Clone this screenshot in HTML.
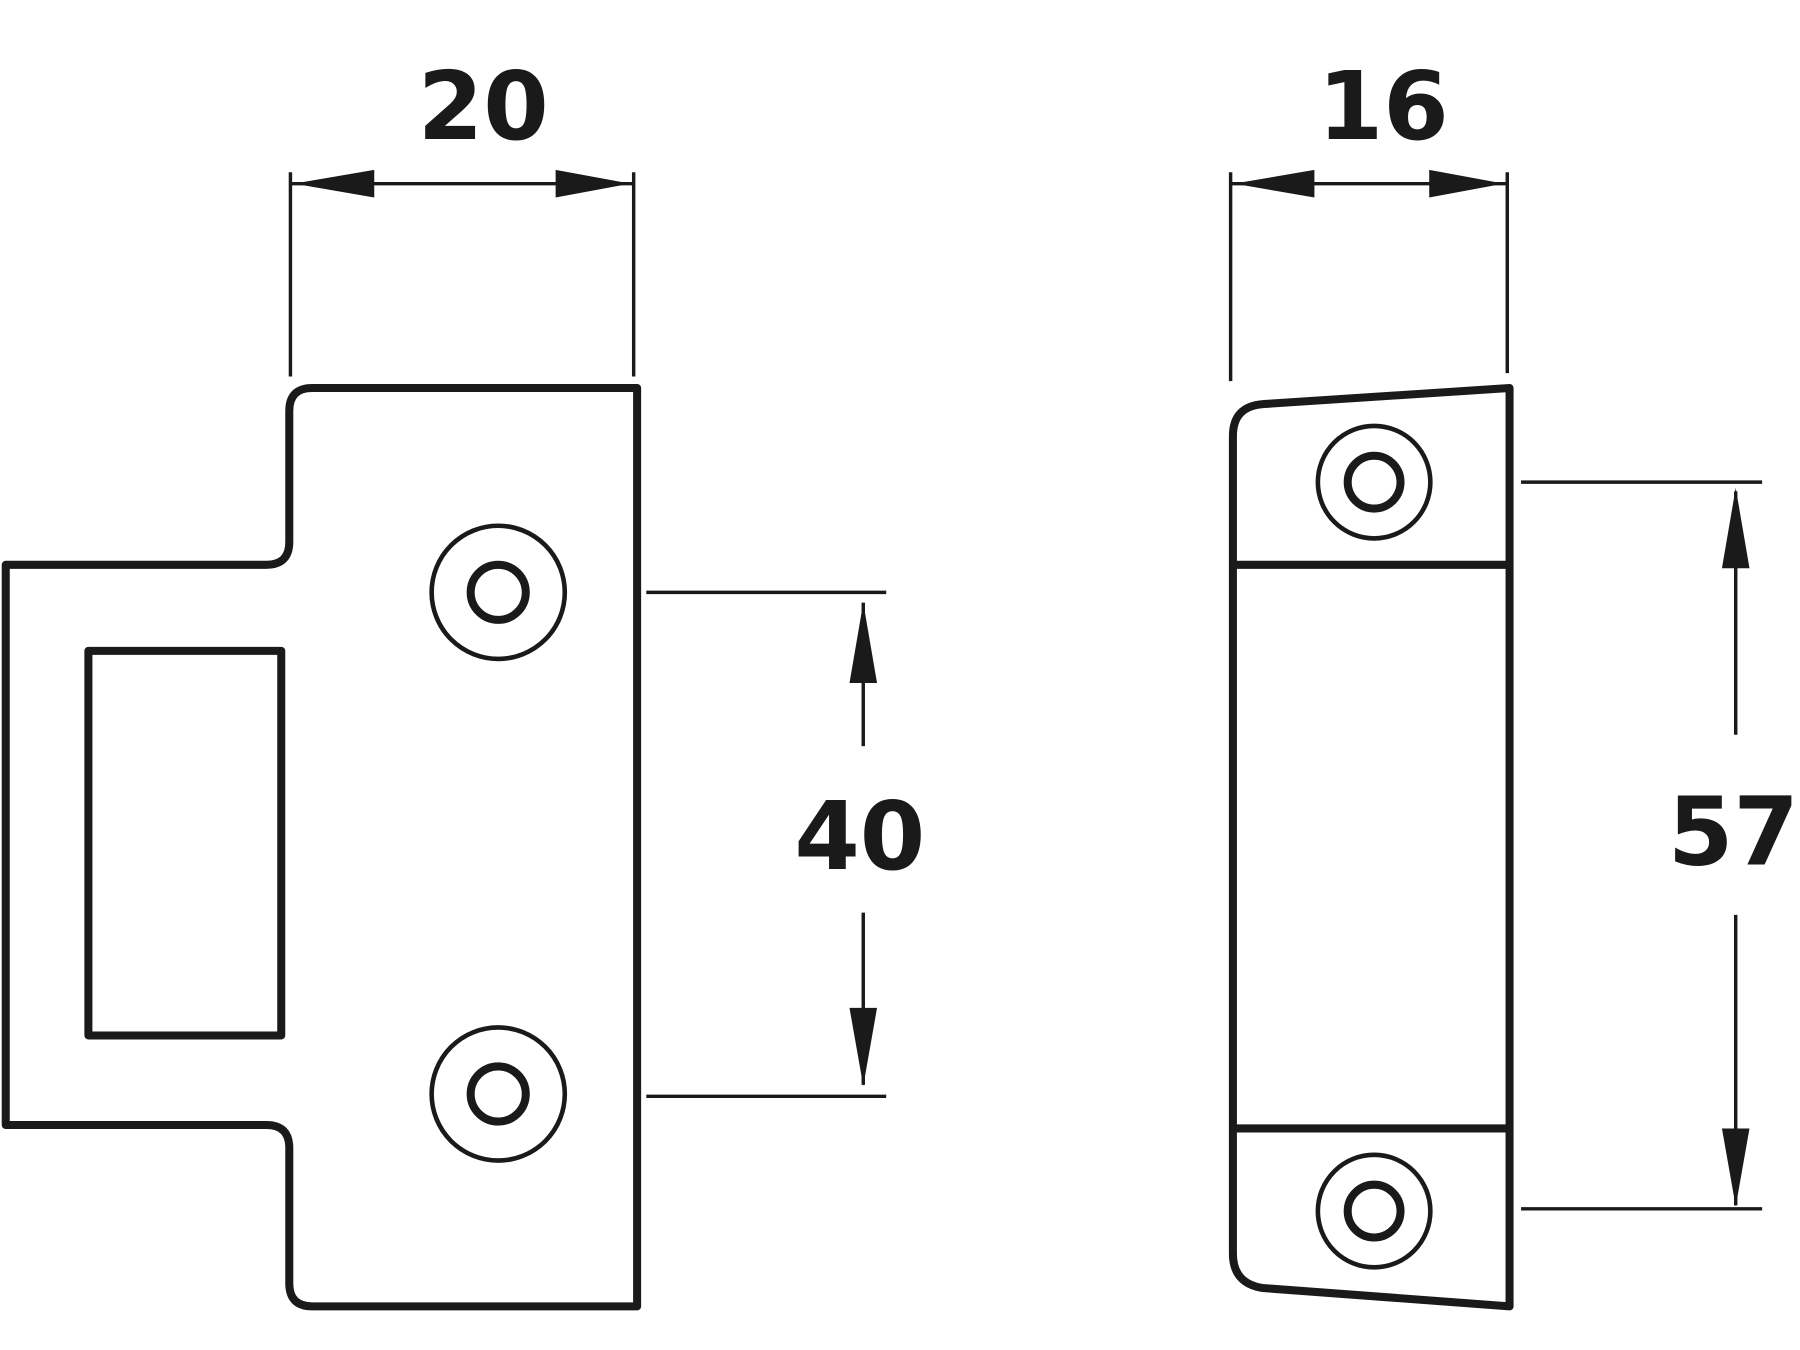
<!DOCTYPE html>
<html><head><meta charset="utf-8"><style>
html,body{margin:0;padding:0;background:#fff;}
svg{display:block;}
svg text{font-family:"DejaVu Sans","Liberation Sans",sans-serif;font-weight:bold;font-size:82px;fill:#1a1a1a;text-anchor:middle;}
</style></head><body>
<svg width="1800" height="1350" viewBox="0 0 1568 1176" preserveAspectRatio="none" xmlns="http://www.w3.org/2000/svg">
<g fill="none" stroke="#1a1a1a" stroke-width="7" stroke-linejoin="round">
<path d="M272,338 L555,338 L555,1138 L272,1138 Q252,1138 252,1118 L252,1000 Q252,980 232,980 L5,980 L5,492 L232,492 Q252,492 252,472 L252,358 Q252,338 272,338 Z"/>
<rect x="77" y="567" width="168" height="335"/>
<circle cx="434" cy="516" r="58" stroke-width="4"/>
<circle cx="434" cy="516" r="24"/>
<circle cx="434" cy="953" r="58" stroke-width="4"/>
<circle cx="434" cy="953" r="24"/>
<path d="M1100,352 L1315,338 L1315,1138 L1100,1122 Q1074,1118 1074,1092 L1074,380 Q1074,354 1100,352 Z"/>
<line x1="1075" y1="492" x2="1312" y2="492"/>
<line x1="1075" y1="983" x2="1312" y2="983"/>
<circle cx="1197" cy="420" r="49" stroke-width="4"/>
<circle cx="1197" cy="420" r="23"/>
<circle cx="1197" cy="1055" r="49" stroke-width="4"/>
<circle cx="1197" cy="1055" r="23"/>
</g>
<g stroke="#1a1a1a" stroke-width="3" fill="none">
<line x1="253" y1="150" x2="253" y2="328"/>
<line x1="552" y1="150" x2="552" y2="328"/>
<line x1="253" y1="160" x2="552" y2="160"/>
<line x1="563" y1="516" x2="772" y2="516"/>
<line x1="563" y1="955" x2="772" y2="955"/>
<line x1="752" y1="525" x2="752" y2="650"/>
<line x1="752" y1="795" x2="752" y2="945"/>
<line x1="1072" y1="150" x2="1072" y2="332"/>
<line x1="1313" y1="150" x2="1313" y2="325"/>
<line x1="1072" y1="160" x2="1313" y2="160"/>
<line x1="1325" y1="420" x2="1535" y2="420"/>
<line x1="1325" y1="1053" x2="1535" y2="1053"/>
<line x1="1512" y1="428" x2="1512" y2="640"/>
<line x1="1512" y1="797" x2="1512" y2="1050"/>
</g>
<g fill="#1a1a1a">
<polygon points="256,160 326,148 326,172"/>
<polygon points="549,160 484,148 484,172"/>
<polygon points="752,525 740,595 764,595"/>
<polygon points="752,946 740,878 764,878"/>
<polygon points="1075,160 1145,148 1145,172"/>
<polygon points="1310,160 1245,148 1245,172"/>
<polygon points="1512,425 1500,495 1524,495"/>
<polygon points="1512,1051 1500,983 1524,983"/>
</g>
<text x="421" y="121">20</text>
<text x="1205" y="121">16</text>
<text x="749" y="757">40</text>
<text x="1510" y="753">57</text>
</svg>
</body></html>
